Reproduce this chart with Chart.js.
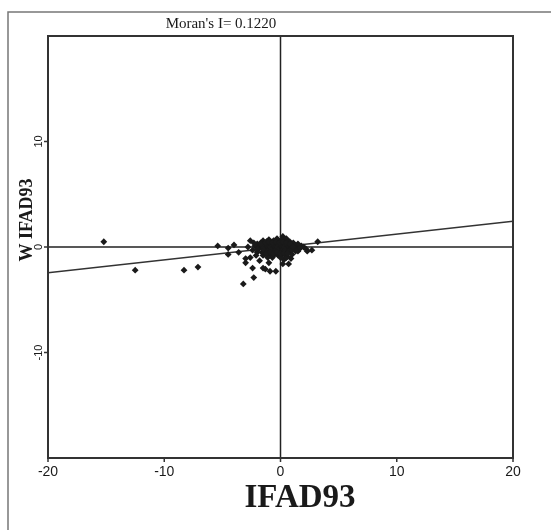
<!DOCTYPE html>
<html>
<head>
<meta charset="utf-8">
<script src="https://cdn.jsdelivr.net/npm/chart.js@4/dist/chart.umd.min.js"></script>
<style>
  body { margin: 0; background: #fff; }
</style>
</head>
<body>
<canvas id="moran" width="551" height="530"></canvas>
<script>
// Moran scatter plot: IFAD93 vs spatial lag
const moranI = 0.1220;
const xTicks = [-20, -10, 0, 10, 20];
const yTicks = [-10, 0, 10];

const xVals = [
  -15.2, -12.5, -8.3, -7.1, -5.4, -4.5, -4.0, -4.5, -3.6, -3.2,
  -2.3, -3.0, -2.6, -2.4, -1.5, -1.3, -0.9, -0.4, 0.2, 0.7,
  0.9, 0.3, 3.2, 2.3, 2.7, 1.5, 0.2, -2.6, -1.5, -2.0,
  -2.8, -3.0, -1.8, -1.0, -2.1,
  -2.2, -1.9, -1.7, -1.6, -1.4, -1.3, -1.2, -1.1, -1.0, -0.9,
  -0.8, -0.7, -0.6, -0.5, -0.4, -0.3, -0.2, -0.1, 0.0, 0.1,
  0.2, 0.3, 0.4, 0.5, 0.6, 0.7, 0.8, 0.9, 1.0, 1.2,
  1.4, 1.6, 1.8, -2.4, -2.0, -1.8, -1.5, -1.2, -0.8, -0.5,
  -0.2, 0.1, 0.4, 0.6, -1.0, -0.3, 0.2, 0.5, -0.6, -0.9,
  -1.3, -0.1, 0.3, 0.0, -0.4, 0.8, 1.1, 1.3, -1.6, -2.3,
  -0.7, 0.0, 0.5, 1.0, -1.1, 0.2, -0.2, -0.5, 0.6, -1.4,
  1.5, 2.0, -0.8, 0.9, 0.1,
  -1.5, -1.2, -0.9, -0.6, -0.3, 0.0, 0.3, 0.6, 0.9, 1.2,
  -1.4, -1.1, -0.8, -0.5, -0.2, 0.1, 0.4, 0.7, 1.0, 1.3,
  -1.7, -1.3, -1.0, -0.7, -0.4, -0.1, 0.2, 0.5, 0.8, 1.1,
  -1.2, -0.9, -0.6, -0.3, 0.0, 0.3, 0.6, -2.0, 1.7, 2.2
];
const yVals = [
  0.5, -2.2, -2.2, -1.9, 0.1, -0.1, 0.2, -0.7, -0.5, -3.5,
  -2.9, -1.5, -1.0, -2.0, -2.0, -2.1, -2.3, -2.3, -1.6, -1.6,
  -1.1, -1.2, 0.5, -0.4, -0.3, -0.4, 1.0, 0.6, 0.6, 0.3,
  0.0, -1.1, -1.3, -1.5, -0.8,
  0.1, -0.2, 0.4, -0.5, 0.2, -0.3, 0.5, -0.1, 0.3, -0.6,
  0.1, -0.3, 0.6, 0.0, -0.4, 0.3, -0.1, 0.5, -0.3, 0.2,
  -0.5, 0.4, 0.0, -0.2, 0.6, 0.1, -0.4, 0.3, -0.1, 0.2,
  0.0, -0.2, 0.1, -0.3, -0.5, 0.0, -0.8, -0.7, -0.8, -0.7,
  -0.8, -0.8, -0.7, -0.9, 0.7, 0.8, 0.7, 0.8, 0.3, 0.0,
  0.1, 0.1, -0.1, 0.4, 0.2, 0.5, 0.4, -0.4, -0.1, 0.4,
  -1.0, -1.0, -1.0, -0.7, -1.0, 0.2, 0.3, -0.2, -0.5, -0.5,
  0.3, 0.0, 0.4, 0.0, -0.3,
  0.0, 0.1, 0.0, 0.1, 0.0, 0.1, 0.0, 0.1, 0.0, 0.1,
  -0.3, -0.4, -0.3, -0.4, -0.3, -0.4, -0.3, -0.4, -0.3, -0.2,
  0.3, 0.4, 0.5, 0.4, 0.5, 0.4, 0.5, 0.4, 0.3, 0.0,
  -0.6, -0.5, -0.6, -0.5, -0.6, -0.6, -0.6, -0.2, -0.1, -0.2
];

const points = xVals.map((x, i) => ({ x: x, y: yVals[i] }));
const fitLine = [
  { x: xTicks[0], y: xTicks[0] * moranI },
  { x: xTicks[xTicks.length - 1], y: xTicks[xTicks.length - 1] * moranI }
];

const decor = {
  id: "decor",
  beforeDraw(chart) {
    const ctx = chart.ctx;
    ctx.save();
    ctx.fillStyle = "#fff";
    ctx.fillRect(0, 0, chart.width, chart.height);
    ctx.restore();
  },
  beforeDatasetsDraw(chart) {
    const ctx = chart.ctx;
    const a = chart.chartArea;
    const x0 = chart.scales.x.getPixelForValue(0);
    const y0 = chart.scales.y.getPixelForValue(0);
    ctx.save();
    ctx.strokeStyle = "#222";
    ctx.lineWidth = 1.5;
    ctx.beginPath();
    ctx.moveTo(x0, a.top); ctx.lineTo(x0, a.bottom);
    ctx.moveTo(a.left, y0); ctx.lineTo(a.right, y0);
    ctx.stroke();
    ctx.restore();
  },
  afterDraw(chart) {
    const ctx = chart.ctx;
    const a = chart.chartArea;
    const xs = chart.scales.x, ys = chart.scales.y;
    ctx.save();

    // outer frame
    ctx.strokeStyle = "#777";
    ctx.lineWidth = 1.5;
    ctx.beginPath();
    ctx.moveTo(8, chart.height); ctx.lineTo(8, 12); ctx.lineTo(chart.width, 12);
    ctx.stroke();

    // plot box
    ctx.strokeStyle = "#333";
    ctx.lineWidth = 2;
    ctx.strokeRect(a.left, a.top, a.right - a.left, a.bottom - a.top);

    // x ticks
    ctx.lineWidth = 1.5;
    ctx.fillStyle = "#1a1a1a";
    ctx.font = "14px 'Liberation Sans', Arial, sans-serif";
    ctx.textAlign = "center";
    ctx.textBaseline = "middle";
    xTicks.forEach(v => {
      const px = xs.getPixelForValue(v);
      ctx.beginPath();
      ctx.moveTo(px, a.bottom); ctx.lineTo(px, a.bottom + 4);
      ctx.stroke();
      ctx.fillText(String(v), px, a.bottom + 14);
    });

    // y ticks, rotated labels
    ctx.font = "11px 'Liberation Sans', Arial, sans-serif";
    yTicks.forEach(v => {
      const py = ys.getPixelForValue(v);
      ctx.beginPath();
      ctx.moveTo(a.left - 4, py); ctx.lineTo(a.left, py);
      ctx.stroke();
      ctx.save();
      ctx.translate(a.left - 9, py);
      ctx.rotate(-Math.PI / 2);
      ctx.fillText(String(v), 0, 0);
      ctx.restore();
    });

    // title
    ctx.font = "15px 'Liberation Serif', 'DejaVu Serif', serif";
    ctx.fillText("Moran's I= " + moranI.toFixed(4), 221, 24);

    // axis titles
    ctx.font = "bold 33px 'Liberation Serif', 'DejaVu Serif', serif";
    ctx.fillText("IFAD93", 300, 498);

    ctx.save();
    ctx.translate(27, 220);
    ctx.rotate(-Math.PI / 2);
    ctx.font = "bold 18px 'Liberation Serif', 'DejaVu Serif', serif";
    ctx.fillText("W IFAD93", 0, 0);
    ctx.restore();

    ctx.restore();
  }
};

new Chart(document.getElementById("moran"), {
  type: "scatter",
  data: {
    datasets: [
      {
        data: points,
        pointStyle: "rectRot",
        pointRadius: 3.4,
        backgroundColor: "#1a1a1a",
        borderWidth: 0
      },
      {
        type: "line",
        data: fitLine,
        borderColor: "#333",
        borderWidth: 1.3,
        pointRadius: 0,
        fill: false
      }
    ]
  },
  options: {
    responsive: false,
    animation: false,
    layout: { padding: { left: 48, top: 36, right: 38, bottom: 72 } },
    plugins: { legend: { display: false }, tooltip: { enabled: false } },
    scales: {
      x: { type: "linear", display: false, min: -20, max: 20 },
      y: { type: "linear", display: false, min: -20, max: 20 }
    }
  },
  plugins: [decor]
});
</script>
</body>
</html>
